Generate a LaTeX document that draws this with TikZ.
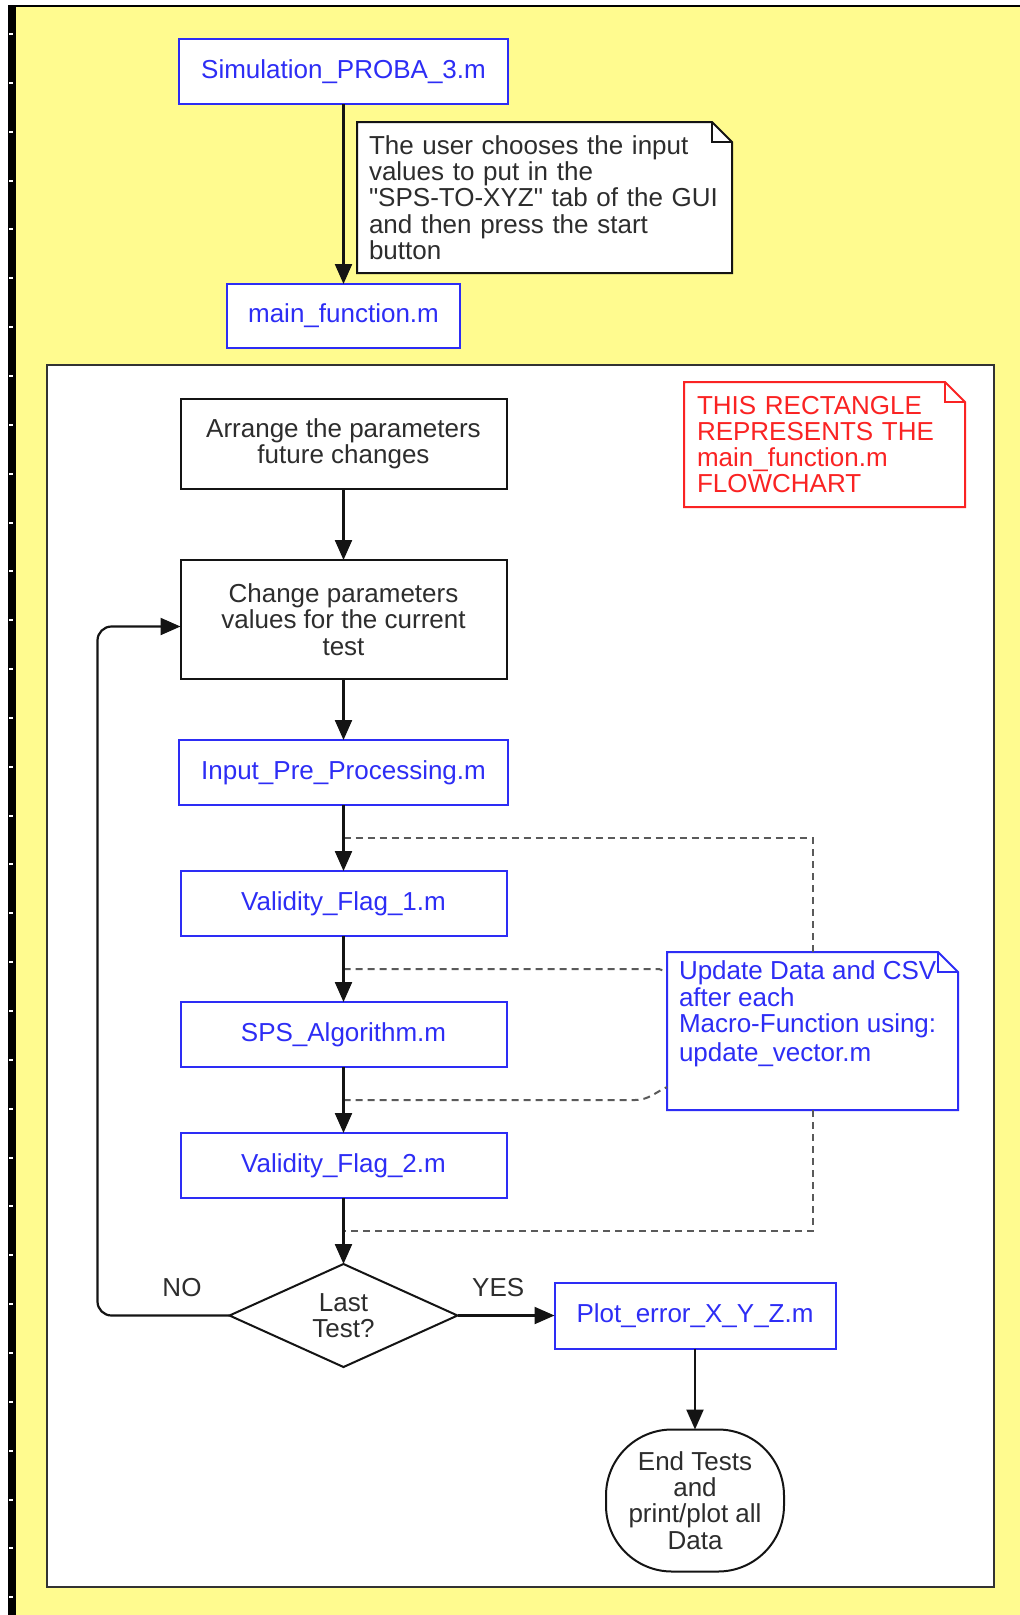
\documentclass[tikz,border=0pt]{standalone}
\usepackage{fontspec}
\setmainfont{Liberation Sans}[Ligatures=TeXOff]
\usepackage{tikz}
\usetikzlibrary{shapes.geometric, arrows.meta, positioning, calc, backgrounds}
\definecolor{pageyellow}{RGB}{255,251,143}
\definecolor{fileblue}{RGB}{45,45,245}
\definecolor{notered}{RGB}{250,35,35}
\definecolor{textgray}{RGB}{45,45,45}
\definecolor{linegray}{RGB}{20,20,20}
\definecolor{dashgray}{RGB}{90,90,90}
\newcommand{\flowfont}{\fontsize{26}{26.3}\selectfont}
% note outline with a folded corner
\newcommand{\foldnote}[2]{%
  \draw[#2, fill=white, line width=2pt]
    (#1.north west) -- ([xshift=-20pt]#1.north east)
    -- ([yshift=-20pt]#1.north east) -- (#1.south east)
    -- (#1.south west) -- cycle;
  \draw[#2, line width=2pt] ([xshift=-20pt]#1.north east)
    |- ([yshift=-20pt]#1.north east);}
\tikzset{
  boxbase/.style={rectangle, draw, line width=2pt, fill=white,
    minimum width=326pt, minimum height=65pt, inner sep=0pt,
    outer sep=0pt, align=center, font=\flowfont},
  mfile/.style={boxbase, draw=fileblue, text=fileblue},
  stepbox/.style={boxbase, draw=linegray, text=textgray},
  decision/.style={diamond, aspect=2.2, draw=linegray, line width=2pt,
    fill=white, minimum width=228pt, minimum height=103pt, inner sep=0pt,
    outer sep=0pt, align=center, text=textgray, font=\flowfont},
  terminal/.style={rectangle, rounded corners=66pt, draw=linegray,
    line width=2pt, fill=white, minimum width=178pt, minimum height=142pt,
    inner sep=0pt, outer sep=0pt, align=center, text=textgray,
    font=\flowfont},
  note/.style={rectangle, anchor=north west, inner xsep=12pt,
    inner ysep=8pt, outer sep=0pt, align=left, font=\flowfont},
  tag/.style={font=\flowfont, text=textgray, inner sep=2pt},
  flow/.style={-{Triangle[width=17pt, length=20pt]}, line width=2.2pt,
    draw=linegray},
  dashlink/.style={line width=2pt, draw=dashgray,
    dash pattern=on 7pt off 5pt},
}

\begin{document}
\begin{tikzpicture}[x=1pt, y=-1pt, node distance=66pt]
  \useasboundingbox (0,0) rectangle (1020,1615);

  %% -- page ------------------------------------------------------
  \begin{scope}[on background layer]
    \fill[white] (0,0) rectangle (1020,1615);
    \fill[pageyellow] (16,7) rectangle (1020,1615);
    \fill[black] (8,5) rectangle (16,1615);
    \fill[black] (8,5) rectangle (1020,7);
    \foreach \k in {0,...,32}
      \fill[white] (9,{33+48.85*\k}) rectangle (13,{35+48.85*\k});
    \draw[black!80, line width=2pt, fill=white] (47,365) rectangle (994,1587);
  \end{scope}

  %% -- launcher --------------------------------------------------
  \node[mfile, minimum width=329pt] (sim) at (343.5,71.5)
    {Simulation\_PROBA\_3.m};
  \node[mfile, minimum width=233pt, minimum height=64pt, below=180pt of sim]
    (mainfn) {main\_function.m};
  \node[note, minimum width=375pt, minimum height=151pt, text width=351pt,
        text=textgray] (usernote) at (357,122)
    {The user chooses the input\\values to put in the\\"SPS-TO-XYZ" tab of the GUI\\and then press the start\\button};

  %% -- main_function.m flowchart ---------------------------------
  \node[stepbox, minimum height=90pt, below=51pt of mainfn] (arrange)
    {Arrange the parameters\\future changes};
  \node[note, text=notered, minimum width=281pt, minimum height=125pt,
        text width=255pt] (rednote) at (684,382)
    {THIS RECTANGLE\\REPRESENTS THE\\main\_function.m\\FLOWCHART};
  \node[stepbox, minimum height=119pt, below=71pt of arrange] (change)
    {Change parameters\\values for the current\\test};
  \node[mfile, minimum width=329pt, below=61pt of change] (input)
    {Input\_Pre\_Processing.m};
  \node[mfile, below=of input] (val1) {Validity\_Flag\_1.m};
  \node[mfile, below=of val1]  (sps)  {SPS\_Algorithm.m};
  \node[mfile, below=of sps]   (val2) {Validity\_Flag\_2.m};
  \node[decision, below=of val2] (last) {Last\\Test?};
  \node[mfile, minimum width=281pt, minimum height=66pt, right=97pt of last]
    (plot) {Plot\_error\_X\_Y\_Z.m};
  \node[terminal, below=81pt of plot] (finish)
    {End Tests\\and\\print/plot all\\Data};

  % update note
  \node[note, minimum width=291pt, minimum height=158pt] (updnote) at (667,952) {};
  \node[note, text=fileblue, inner ysep=9pt] (updtext) at (updnote.north west)
    {Update Data and CSV\\after each\\Macro-Function using:\\[3pt]update\_vector.m};

  \begin{scope}[on background layer]
    \foldnote{usernote}{linegray}
    \foldnote{rednote}{notered}
    \foldnote{updnote}{fileblue}
  \end{scope}

  %% -- dashed links to the update note ---------------------------
  \coordinate (tap1) at ($(input.south)!.5!(val1.north)$);
  \coordinate (tap2) at ($(val1.south)!.5!(sps.north)$);
  \coordinate (tap3) at ($(sps.south)!.5!(val2.north)$);
  \coordinate (tap4) at ($(val2.south)!.5!(last.north)$);
  \draw[dashlink] (tap1) -| (updnote.north);
  \draw[dashlink] (tap2) -- ($(tap2 -| updnote.west)+(-8,0)$)
    -- ([yshift=-20pt]updnote.north west);
  \draw[dashlink] (tap3) -- ($(tap3 -| updnote.west)+(-32,0)$)
    to[out=0, in=205] ([yshift=23pt]updnote.south west);
  \draw[dashlink] (updnote.south) |- (tap4);

  %% -- flow ------------------------------------------------------
  \draw[flow] (sim) -- (mainfn);
  \draw[flow] (arrange) -- (change);
  \draw[flow] (change) -- (input);
  \draw[flow] (input) -- (val1);
  \draw[flow] (val1) -- (sps);
  \draw[flow] (sps) -- (val2);
  \draw[flow] (val2) -- (last);
  \draw[flow] (last) -- node[tag, pos=.42, above=16pt] {YES} (plot);
  \draw[flow] (plot) -- (finish);
  \draw[flow, rounded corners=14pt] (last.west)
    -- node[tag, pos=.36, above=16pt] {NO} ++(-132,0)
    |- ([yshift=-7pt]change.west);

\end{tikzpicture}
\end{document}
